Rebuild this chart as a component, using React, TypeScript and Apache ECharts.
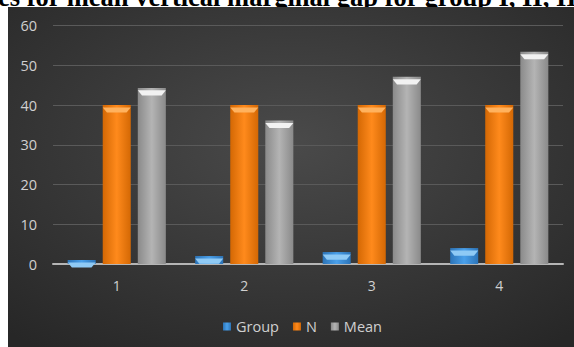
import React, { useEffect, useRef } from "react";
import * as echarts from "echarts";

const categories = ["1", "2", "3", "4"];
const groupValues = [1, 2, 3, 4];
const nValues = [40, 40, 40, 40];
const meanValues = [44.3, 36.1, 47.1, 53.4];
const yTicks = { min: 0, max: 60, interval: 10 };
const titleText = "es for mean vertical marginal gap for group I, II, III";

const hGrad = (edge: string, mid: string) =>
  new echarts.graphic.LinearGradient(0, 0, 1, 0, [
    { offset: 0, color: edge },
    { offset: 0.5, color: mid },
    { offset: 1, color: edge },
  ]);

export default function App() {
  const ref = useRef<HTMLDivElement>(null);
  useEffect(() => {
    if (!ref.current) return;
    const chart = echarts.init(ref.current, null, { renderer: "svg" });
    const barCommon = {
      type: "bar" as const,
      barGap: "25%",
      barCategoryGap: "23%",
    };
    const capCommon = {
      type: "pictorialBar" as const,
      barGap: "25%",
      barCategoryGap: "23%",
      symbol: "path://M0,0 L20,0 L17,4 L3,4 Z",
      symbolSize: ["100%", 5],
      symbolPosition: "end",
      symbolOffset: [0, "50%"],
      z: 5,
      silent: true,
      legendHoverLink: false,
    };
    chart.setOption({
      animation: false,
      backgroundColor: "#ffffff",
      graphic: [
        {
          type: "text",
          x: -2,
          y: -3.5,
          z: -20,
          style: {
            text: titleText,
            font: 'bold 26.5px "Liberation Serif"',
            fill: "#000000",
            verticalAlign: "middle",
            align: "left",
          },
        },
        {
          type: "rect",
          z: -10,
          shape: { x: 8, y: 7, width: 566, height: 340 },
          style: {
            fill: new echarts.graphic.RadialGradient(0.5, 0.4, 0.75, [
              { offset: 0, color: "#4a4a4a" },
              { offset: 1, color: "#272727" },
            ]),
          },
          silent: true,
        },
      ],
      grid: { left: 53, right: 11, top: 25.5, bottom: 83 },
      legend: {
        data: ["Group", "N", "Mean"],
        left: 218,
        top: 314,
        itemWidth: 8,
        itemHeight: 8,
        itemGap: 14,
        icon: "rect",
        textStyle: { color: "#d0d0d0", fontSize: 14.5, fontFamily: "Open Sans" },
      },
      xAxis: {
        type: "category",
        data: categories,
        axisLine: { lineStyle: { color: "#b5b5b5", width: 2 } },
        axisTick: { show: false },
        axisLabel: { color: "#d0d0d0", fontSize: 14, fontFamily: "Open Sans", margin: 14 },
      },
      yAxis: {
        type: "value",
        min: yTicks.min,
        max: yTicks.max,
        interval: yTicks.interval,
        axisLine: { show: false },
        axisTick: { show: false },
        splitLine: { lineStyle: { color: "#5a5a5a", width: 1 } },
        axisLabel: { color: "#d0d0d0", fontSize: 14.5, fontFamily: "Open Sans", margin: 16 },
      },
      series: [
        { ...barCommon, name: "Group", data: groupValues, itemStyle: { color: hGrad("#2c74b8", "#4aa0ea") } },
        { ...barCommon, name: "N", data: nValues, itemStyle: { color: hGrad("#d46804", "#ff8a1c") } },
        { ...barCommon, name: "Mean", data: meanValues, itemStyle: { color: hGrad("#8a8a8a", "#b4b4b4") } },
        { ...capCommon, name: "capGroup", data: groupValues, itemStyle: { color: "#8fcaf5" } },
        { ...capCommon, name: "capN", data: nValues, itemStyle: { color: "#ffb25e" } },
        { ...capCommon, name: "capMean", data: meanValues, itemStyle: { color: "#f2f2f2" } },
      ],
    });
    return () => chart.dispose();
  }, []);
  return (
    <div
      ref={ref}
      style={{ position: "absolute", left: 0, top: 0, width: 574, height: 347 }}
    />
  );
}
